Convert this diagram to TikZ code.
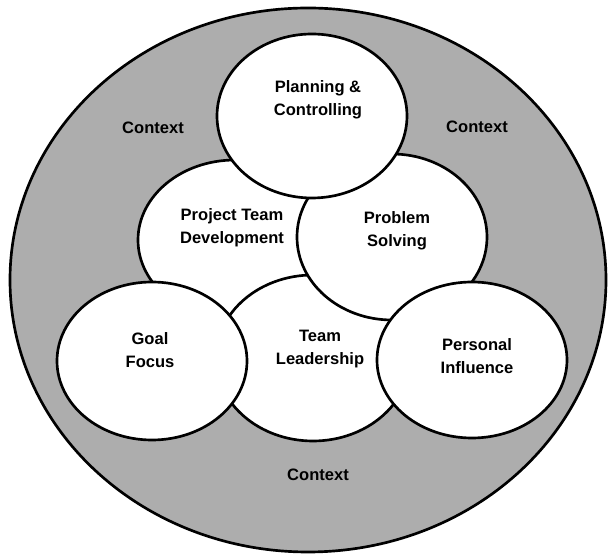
\documentclass[tikz,border=0pt]{standalone}
\usepackage{fontspec}
\setmainfont{Liberation Sans}
\usetikzlibrary{shapes.geometric}

\begin{document}
\begin{tikzpicture}[x=0.75pt, y=-0.75pt,
    every node/.style={font=\fontsize{12.4}{17}\selectfont\bfseries},
    bubble/.style={ellipse, draw, fill=white, line width=2pt, inner sep=0pt},
    lbl/.style={align=center, inner sep=0pt}]
    \useasboundingbox (0,0) rectangle (608,555);

    % Context ring
    \draw[line width=2pt, fill=black!32] (308,280) ellipse [x radius=298, y radius=272];

    % Bubbles, back to front
    \node[bubble, minimum width=145.5pt, minimum height=120pt] (ptd) at (235,240) {};
    \node[bubble, minimum width=145.5pt, minimum height=124.5pt] (tl) at (313,358) {};
    \node[bubble, minimum width=142.5pt, minimum height=124.5pt] (ps) at (392,237) {};
    \node[bubble, minimum width=142.5pt, minimum height=118.5pt] (goal) at (152,361) {};
    \node[bubble, minimum width=142.5pt, minimum height=117pt] (pi) at (472,360) {};
    \node[bubble, minimum width=142.5pt, minimum height=123pt] (plan) at (312,116) {};

    % Bubble texts
    \node[lbl] (plan-txt) at (318,100) {Planning \&\\Controlling};
    \node[lbl] (ptd-txt) at (232,228) {Project Team\\Development};
    \node[lbl] (ps-txt) at (397,231) {Problem\\Solving};
    \node[lbl] (tl-txt) at (320,349) {Team\\Leadership};
    \node[lbl] (goal-txt) at (150,350) {Goal\\Focus};
    \node[lbl] (pi-txt) at (477,356) {Personal\\Influence};

    % Context labels
    \node[lbl] (ctx-l) at (153,128) {Context};
    \node[lbl] (ctx-r) at (477,127) {Context};
    \node[lbl] (ctx-b) at (318,475) {Context};
\end{tikzpicture}
\end{document}
